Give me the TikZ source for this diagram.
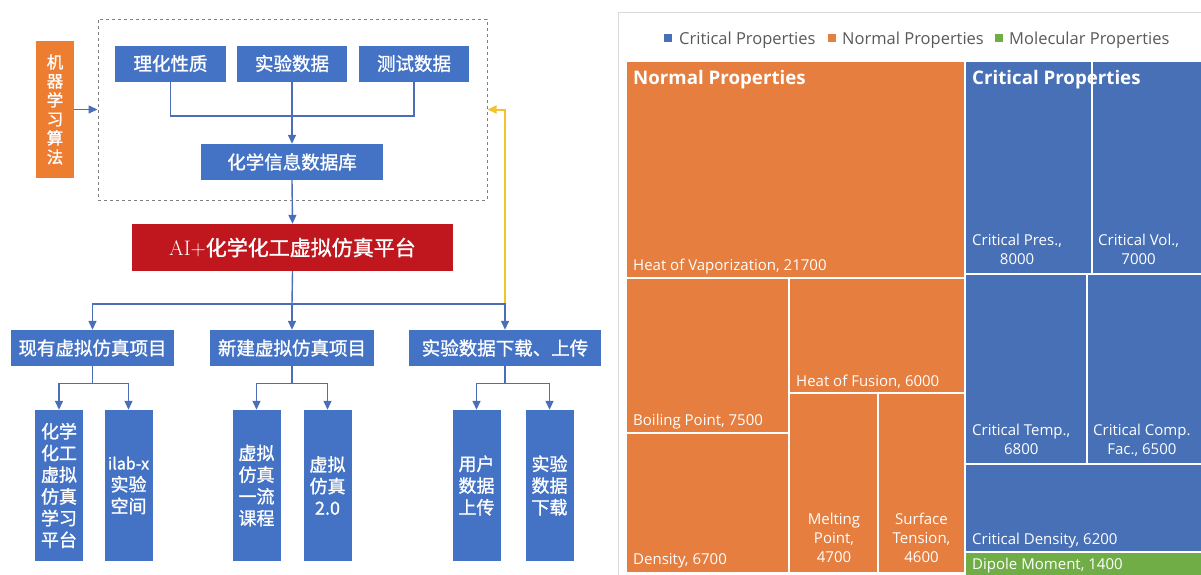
\documentclass[tikz,border=0pt]{standalone}
\usepackage{fontspec}
\usepackage{xcolor}
\usepackage{tikz}
\usetikzlibrary{calc,arrows.meta}
\newfontfamily\cjk[FakeBold=1.2]{Noto Sans CJK SC}
\newfontfamily\uifont{Open Sans}
\definecolor{boxblue}{HTML}{4472C4}
\definecolor{linkblue}{HTML}{4A6FB8}
\definecolor{redbox}{HTML}{C0161E}
\definecolor{algoorange}{HTML}{ED7D31}
\definecolor{gold}{HTML}{F2C230}
\definecolor{dash}{HTML}{7F7F7F}
\definecolor{tmorange}{HTML}{E57E3F}
\definecolor{tmblue}{HTML}{4870B6}
\definecolor{tmgreen}{HTML}{70AD47}
\definecolor{legtext}{HTML}{595959}
\definecolor{panel}{HTML}{D9D9D9}
\tikzset{
  box/.style={fill=boxblue, text=white, inner sep=0pt, minimum height=36pt, font=\cjk\fontsize{18.5}{22}\selectfont},
  tall/.style={box, minimum width=48pt, minimum height=151pt, align=center, font=\cjk\fontsize{18}{21.7}\selectfont},
  link/.style={draw=linkblue, line width=1.4pt},
  tip/.style={-{Triangle[width=8pt,length=9pt]}},
  back/.style={draw=gold, line width=2pt},
  cell/.style={draw=white, line width=2pt},
  lab/.style={text=white, inner sep=0pt, font=\uifont\fontsize{15}{19}\selectfont},
  head/.style={text=white, inner sep=0pt, font=\uifont\bfseries\fontsize{18.7}{22}\selectfont},
  leg/.style={text=legtext, inner sep=0pt, font=\uifont\fontsize{16.5}{20}\selectfont},
}
\begin{document}
\begin{tikzpicture}[x=1pt,y=-1pt]
  \useasboundingbox (0,0) rectangle (1201,574);
  % platform chart
  \node[draw=dash, dashed, line width=1pt, minimum width=389pt, minimum height=181pt, inner sep=0pt] (frame) at (292.5,109.5) {};
  \node[box, fill=algoorange, minimum width=38pt, minimum height=137pt, align=center, font=\cjk\fontsize{16.5}{19}\selectfont] (algo) at (55,109.5) {机\\器\\学\\习\\算\\法};
  \node[box, minimum width=111pt] (phys) at (170.5,63.5) {理化性质};
  \node[box, minimum width=110pt] (expt) at (292,63.5) {实验数据};
  \node[box, minimum width=110pt] (test) at (414,63.5) {测试数据};
  \node[box, minimum width=182pt] (chemdb) at (292,162) {化学信息数据库};
  \node[box, fill=redbox, minimum width=321pt, minimum height=47pt, font=\cjk\fontsize{21}{24}\selectfont] (platform) at (292.5,247.5) {{\rmfamily AI+}化学化工虚拟仿真平台};
  \node[box, minimum width=163pt] (exist) at (92.5,348) {现有虚拟仿真项目};
  \node[box, minimum width=164pt] (newp) at (292,348) {新建虚拟仿真项目};
  \node[box, minimum width=192pt] (data) at (505,348) {实验数据下载、上传};
  \node[tall] (chem) at (59,485.5) {化学\\化工\\虚拟\\仿真\\学习\\平台};
  \node[tall] (ilab) at (128.5,485.5) {{\fontsize{16}{21.7}\selectfont ilab-x}\\实验\\空间};
  \node[tall] (course) at (256.5,485.5) {虚拟\\仿真\\一流\\课程};
  \node[tall] (vstwo) at (327.5,485.5) {虚拟\\仿真\\2.0};
  \node[tall] (upload) at (476.5,485.5) {用户\\数据\\上传};
  \node[tall] (download) at (549.5,485.5) {实验\\数据\\下载};

  \coordinate (j1) at (292,116);
  \coordinate (j2) at (292,304);
  \draw[link] (phys.south) |- (j1) -| (test.south);
  \draw[link] (expt.south) -- (j1);
  \draw[link,tip] (j1) -- (chemdb.north);
  \draw[link,tip] (chemdb.south) -- (platform.north);
  \draw[link,tip] (algo.east) -- (frame.west);
  \draw[back,tip] (data.north |- j2) |- (frame.east);
  \draw[link] (platform.south) -- (j2);
  \draw[link,tip] (j2) -| (exist.north);
  \draw[link,tip] (j2) -- (newp.north);
  \draw[link,tip] (j2) -| (data.north);
  \draw[link] (exist.south) -- ++(0,17) coordinate (k1);
  \draw[link,tip] (k1) -| (chem.north);
  \draw[link,tip] (k1) -| (ilab.north);
  \draw[link] (newp.south) -- ++(0,17) coordinate (k2);
  \draw[link,tip] (k2) -| (course.north);
  \draw[link,tip] (k2) -| (vstwo.north);
  \draw[link] (data.south) -- ++(0,17) coordinate (k3);
  \draw[link,tip] (k3) -| (upload.north);
  \draw[link,tip] (k3) -| (download.north);

  % treemap
  \draw[panel, line width=1pt] (618,575) -- (618,12) -- (1202,12);
  \fill[tmblue] (664,34) rectangle (672,42);
  \fill[tmorange] (828,34) rectangle (836,42);
  \fill[tmgreen] (995,34) rectangle (1003,42);
  \node[leg, anchor=base west] (legc) at (679,44) {Critical Properties};
  \node[leg, anchor=base west] (legn) at (842,44) {Normal Properties};
  \node[leg, anchor=base west] (legm) at (1009,44) {Molecular Properties};

  \path[cell, fill=tmorange] (626,61) rectangle (965,278);
  \path[cell, fill=tmorange] (626,278) rectangle (789,433);
  \path[cell, fill=tmorange] (626,433) rectangle (789,573);
  \path[cell, fill=tmorange] (789,278) rectangle (965,393);
  \path[cell, fill=tmorange] (789,393) rectangle (878,573);
  \path[cell, fill=tmorange] (878,393) rectangle (965,573);
  \path[cell, fill=tmblue] (965,61) rectangle (1092,274);
  \path[cell, fill=tmblue] (1092,61) rectangle (1203,274);
  \path[cell, fill=tmblue] (965,274) rectangle (1087,464);
  \path[cell, fill=tmblue] (1087,274) rectangle (1203,464);
  \path[cell, fill=tmblue] (965,464) rectangle (1203,552);
  \path[cell, fill=tmgreen] (965,552) rectangle (1203,576);

  \node[head, anchor=base west] (nphead) at (633,84) {Normal Properties};
  \node[head, anchor=base west] (cphead) at (972,84) {Critical Properties};
  \node[lab, anchor=base west] (hvap) at (633,270) {Heat of Vaporization, 21700};
  \node[lab, anchor=base west] (boil) at (633,425) {Boiling Point, 7500};
  \node[lab, anchor=base west] (dens) at (633,564) {Density, 6700};
  \node[lab, anchor=base west] (hfus) at (796,386) {Heat of Fusion, 6000};
  \node[lab, anchor=north, align=center] (melt) at (834,513) {Melting\\Point,\\4700};
  \node[lab, anchor=north, align=center] (surf) at (921.5,513) {Surface\\Tension,\\4600};
  \node[lab, anchor=north west, align=center] (cpres) at (972,234) {Critical Pres.,\\8000};
  \node[lab, anchor=north west, align=center] (cvol) at (1098,234) {Critical Vol.,\\7000};
  \node[lab, anchor=north west, align=center] (ctemp) at (972,424) {Critical Temp.,\\6800};
  \node[lab, anchor=north west, align=center] (ccomp) at (1093,424) {Critical Comp.\\Fac., 6500};
  \node[lab, anchor=base west] (cdens) at (972,544) {Critical Density, 6200};
  \node[lab, anchor=base west] (dipole) at (972,569) {Dipole Moment, 1400};
\end{tikzpicture}
\end{document}
